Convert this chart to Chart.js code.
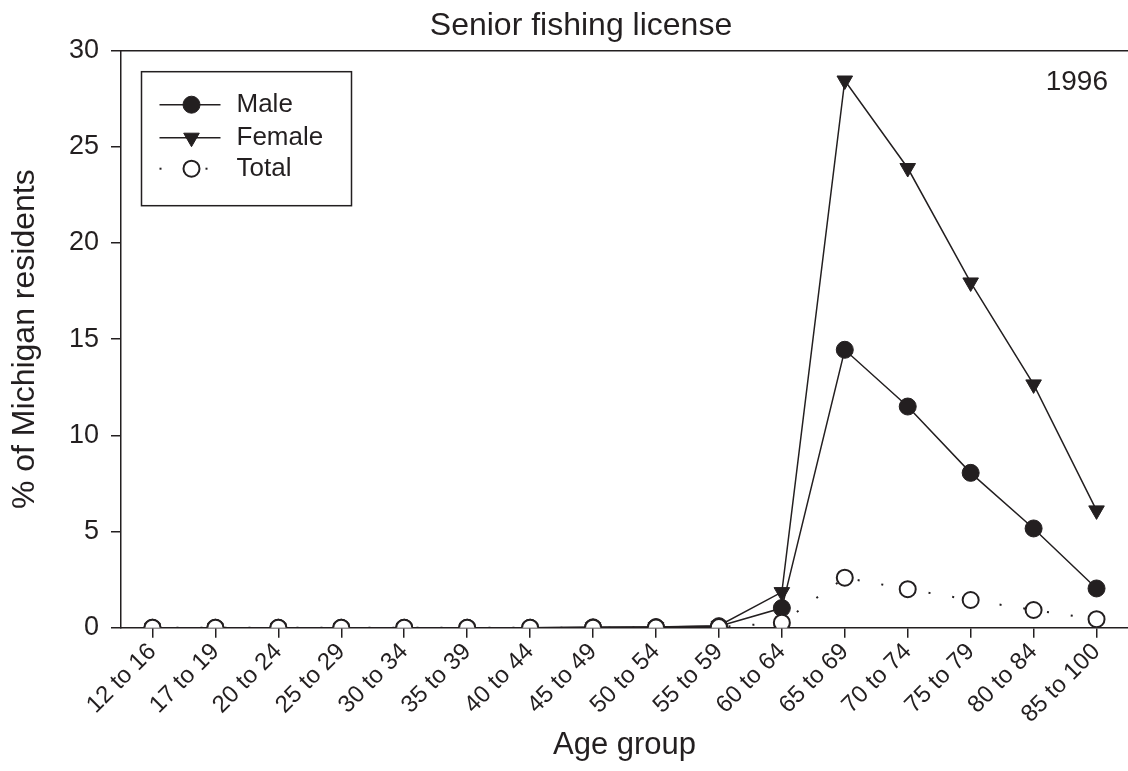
<!DOCTYPE html>
<html>
<head>
<meta charset="utf-8">
<script src="https://cdn.jsdelivr.net/npm/chart.js@4.4.1/dist/chart.umd.min.js"></script>
<style>
  html, body { margin: 0; padding: 0; background: #fff; overflow: hidden; }
</style>
</head>
<body>
<canvas id="myChart" width="1128" height="771"></canvas>
<script>
// datos (1996)
const ageGroups = ['12 to 16', '17 to 19', '20 to 24', '25 to 29', '30 to 34', '35 to 39',
  '40 to 44', '45 to 49', '50 to 54', '55 to 59', '60 to 64', '65 to 69',
  '70 to 74', '75 to 79', '80 to 84', '85 to 100'];
const maleValues   = [0, 0, 0, 0, 0, 0, 0, 0.02, 0.03, 0.08, 1.02, 14.45, 11.5, 8.05, 5.16, 2.04];
const femaleValues = [0, 0, 0, 0, 0, 0, 0, 0.02, 0.04, 0.1, 1.85, 28.45, 23.9, 17.95, 12.65, 6.1];
const totalValues  = [0, 0, 0, 0, 0, 0, 0, 0, 0.01, 0.03, 0.26, 2.6, 2.0, 1.44, 0.92, 0.44];
const yMin = 0, yMax = 30, yStep = 5;
const yearLabel = '1996';

const ink = '#231f20';
const family = "'Liberation Sans', Arial, sans-serif";

// marco superior, etiqueta del año y leyenda con recuadro
const extras = {
  id: 'extras',
  afterDraw(chart) {
    const ctx = chart.ctx;
    const a = chart.chartArea;
    ctx.save();
    ctx.strokeStyle = ink;
    ctx.lineWidth = 1.5;
    ctx.beginPath();
    ctx.moveTo(a.left, a.top);
    ctx.lineTo(a.right, a.top);
    ctx.stroke();

    ctx.fillStyle = ink;
    ctx.font = '28px ' + family;
    ctx.textAlign = 'right';
    ctx.textBaseline = 'middle';
    ctx.fillText(yearLabel, a.right - 20, a.top + 32);

    // leyenda
    const bx = a.left + 20.5, by = a.top + 21, bw = 210, bh = 134;
    ctx.lineWidth = 1.5;
    ctx.strokeRect(bx, by, bw, bh);
    const rows = [by + 33, by + 66, by + 97];
    chart.data.datasets.forEach((ds, i) => {
      const y = rows[i];
      ctx.save();
      ctx.strokeStyle = ds.borderColor;
      ctx.lineWidth = ds.borderWidth;
      if (ds.borderDash) {
        ctx.fillStyle = ink;
        ctx.fillRect(bx + 18, y - 1, 2, 2);
        ctx.fillRect(bx + 64, y - 1, 2, 2);
      } else {
        ctx.beginPath();
        ctx.moveTo(bx + 18, y);
        ctx.lineTo(bx + 79, y);
        ctx.stroke();
      }
      ctx.restore();
      ctx.save();
      ctx.fillStyle = ds.pointBackgroundColor;
      ctx.strokeStyle = ds.pointBorderColor;
      ctx.lineWidth = ds.pointBorderWidth;
      Chart.helpers.drawPoint(ctx, {
        pointStyle: ds.pointStyle,
        rotation: ds.pointRotation || 0,
        radius: ds.pointRadius,
        borderWidth: ds.pointBorderWidth
      }, bx + 50, y);
      ctx.restore();
      ctx.fillStyle = ink;
      ctx.font = '26px ' + family;
      ctx.textAlign = 'left';
      ctx.textBaseline = 'middle';
      ctx.fillText(ds.label, bx + 95, y);
    });
    ctx.restore();
  }
};

const ctx = document.getElementById('myChart').getContext('2d');
const myChart = new Chart(ctx, {
  type: 'line',
  data: {
    labels: ageGroups,
    datasets: [
      {
        label: 'Male',
        data: maleValues,
        borderColor: ink,
        borderWidth: 1.5,
        pointStyle: 'circle',
        pointRadius: 8.5,
        pointBackgroundColor: ink,
        pointBorderColor: ink,
        pointBorderWidth: 1,
        tension: 0,
        order: 2
      },
      {
        label: 'Female',
        data: femaleValues,
        borderColor: ink,
        borderWidth: 1.5,
        pointStyle: 'triangle',
        pointRotation: 180,
        pointRadius: 9,
        pointBackgroundColor: ink,
        pointBorderColor: ink,
        pointBorderWidth: 1,
        tension: 0,
        order: 1
      },
      {
        label: 'Total',
        data: totalValues,
        borderColor: ink,
        borderWidth: 2,
        borderDash: [2, 22],
        pointStyle: 'circle',
        pointRadius: 8,
        pointBackgroundColor: '#ffffff',
        pointBorderColor: ink,
        pointBorderWidth: 2,
        tension: 0,
        order: 0
      }
    ]
  },
  options: {
    responsive: false,
    devicePixelRatio: 1,
    animation: false,
    layout: { autoPadding: false, padding: { left: 34, right: 0, top: 0, bottom: 0 } },
    plugins: {
      legend: { display: false },
      tooltip: { enabled: false },
      title: {
        display: true,
        text: 'Senior fishing license',
        color: ink,
        font: { size: 32, weight: 'normal', family: family },
        padding: { top: 6.5, bottom: 5.8 }
      }
    },
    scales: {
      x: {
        type: 'category',
        offset: true,
        ticks: {
          autoSkip: false,
          maxRotation: 45,
          minRotation: 45,
          color: ink,
          padding: 0,
          font: { size: 24, family: family }
        },
        grid: { drawOnChartArea: false, offset: false, color: ink, lineWidth: 1.5, tickLength: 10 },
        border: { display: true, color: ink, width: 1.5 },
        title: {
          display: true,
          text: 'Age group',
          color: ink,
          font: { size: 31, family: family },
          padding: { top: 0, bottom: 7 }
        },
        afterFit: (s) => { s.height = 143.3; s.paddingLeft = 0; s.paddingRight = 0; }
      },
      y: {
        min: yMin,
        max: yMax,
        ticks: {
          stepSize: yStep,
          color: ink,
          padding: 12,
          font: { size: 27, family: family }
        },
        grid: { drawOnChartArea: false, color: ink, lineWidth: 1.5, tickLength: 10 },
        border: { display: true, color: ink, width: 1.5 },
        title: {
          display: true,
          text: '% of Michigan residents',
          color: ink,
          font: { size: 32, family: family },
          padding: { top: -28, bottom: 0 }
        },
        afterFit: (s) => { s.width = 87; }
      }
    }
  },
  plugins: [extras]
});
</script>
</body>
</html>
